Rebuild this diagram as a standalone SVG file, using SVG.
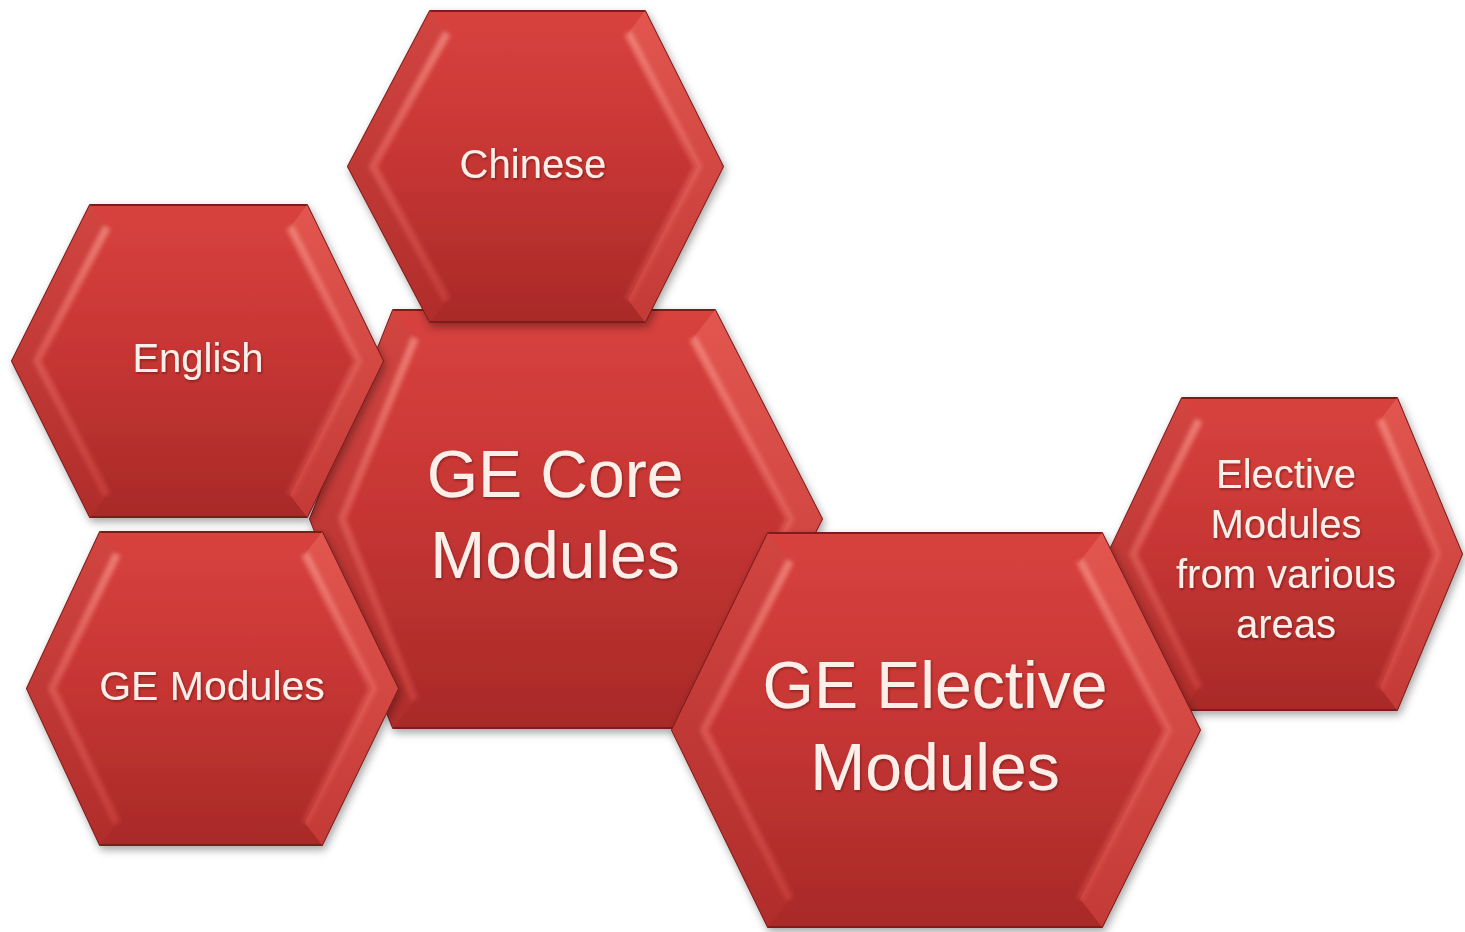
<svg xmlns="http://www.w3.org/2000/svg" width="1465" height="932" viewBox="0 0 1465 932">
<defs>
<linearGradient id="face" x1="0" y1="0" x2="0" y2="1">
<stop offset="0" stop-color="#d8423e"/>
<stop offset="0.5" stop-color="#c53533"/>
<stop offset="1" stop-color="#a82a28"/>
</linearGradient>
<linearGradient id="bandL" x1="0" y1="0" x2="0" y2="1">
<stop offset="0" stop-color="#d24541"/>
<stop offset="1" stop-color="#b02d2b"/>
</linearGradient>
<linearGradient id="bandR" x1="0" y1="0" x2="0" y2="1">
<stop offset="0" stop-color="#e2564f"/>
<stop offset="1" stop-color="#c43a36"/>
</linearGradient>
<linearGradient id="hl" x1="0" y1="0" x2="0" y2="1">
<stop offset="0" stop-color="#f28a80" stop-opacity="0.8"/>
<stop offset="0.5" stop-color="#ec6e66" stop-opacity="0.55"/>
<stop offset="1" stop-color="#e0554f" stop-opacity="0.4"/>
</linearGradient>
<filter id="shadow" x="-10%" y="-10%" width="125%" height="125%">
<feDropShadow dx="2" dy="4" stdDeviation="4" flood-color="#000" flood-opacity="0.35"/>
</filter>
<filter id="blur" x="-10%" y="-10%" width="120%" height="120%">
<feGaussianBlur stdDeviation="2.2"/>
</filter>
<filter id="tshadow" x="-10%" y="-20%" width="120%" height="150%">
<feDropShadow dx="1" dy="1.5" stdDeviation="1" flood-color="#5a0f0f" flood-opacity="0.6"/>
</filter>
</defs>
<style>
.outer{fill:url(#face);stroke:#7e1c1b;stroke-width:2;stroke-linejoin:round}
.bl{fill:url(#bandL)}
.br{fill:url(#bandR)}
.hl{fill:none;stroke:url(#hl);stroke-width:8;stroke-linejoin:round}
.lbl{font-family:"Liberation Sans",Arial,sans-serif;fill:#fcefe9;text-anchor:middle}
.s{font-size:40px}
.b{font-size:66px}
</style>
<rect width="1465" height="932" fill="#ffffff"/>

<g id="ge-core">
<g filter="url(#shadow)"><polygon class="outer" points="393,310 715,310 822,519 715,728 393,728 310,519"/></g>
<polygon class="bl" points="393,310 310,519 393,728 415,700 342,519 415,338"/>
<polygon class="br" points="715,310 822,519 715,728 693,700 790,519 693,338"/>
<polyline class="hl" filter="url(#blur)" points="415,338 342,519 415,700"/>
<polyline class="hl" filter="url(#blur)" points="693,338 790,519 693,700"/>
<text class="lbl b" filter="url(#tshadow)" x="555" y="497">GE Core</text>
<text class="lbl b" filter="url(#tshadow)" x="555" y="578">Modules</text>
</g>

<g id="chinese">
<g filter="url(#shadow)"><polygon class="outer" points="430,11 645,11 723,166.5 645,322 430,322 348,166.5"/></g>
<polygon class="bl" points="430,11 348,166.5 430,322 447,300 373,166.5 447,33"/>
<polygon class="br" points="645,11 723,166.5 645,322 628,300 698,166.5 628,33"/>
<polyline class="hl" filter="url(#blur)" points="447,33 373,166.5 447,300"/>
<polyline class="hl" filter="url(#blur)" points="628,33 698,166.5 628,300"/>
<text class="lbl s" filter="url(#tshadow)" x="533" y="178">Chinese</text>
</g>

<g id="english">
<g filter="url(#shadow)"><polygon class="outer" points="90,205 307,205 383,361 307,517 90,517 12,361"/></g>
<polygon class="bl" points="90,205 12,361 90,517 107,495 37,361 107,227"/>
<polygon class="br" points="307,205 383,361 307,517 290,495 358,361 290,227"/>
<polyline class="hl" filter="url(#blur)" points="107,227 37,361 107,495"/>
<polyline class="hl" filter="url(#blur)" points="290,227 358,361 290,495"/>
<text class="lbl s" filter="url(#tshadow)" x="198" y="372">English</text>
</g>

<g id="ge-modules">
<g filter="url(#shadow)"><polygon class="outer" points="100,532 322,532 398,688.5 322,845 100,845 27,688.5"/></g>
<polygon class="bl" points="100,532 27,688.5 100,845 117,823 52,688.5 117,554"/>
<polygon class="br" points="322,532 398,688.5 322,845 305,823 373,688.5 305,554"/>
<polyline class="hl" filter="url(#blur)" points="117,554 52,688.5 117,823"/>
<polyline class="hl" filter="url(#blur)" points="305,554 373,688.5 305,823"/>
<text class="lbl s" filter="url(#tshadow)" x="212" y="700" style="font-size:41px">GE Modules</text>
</g>

<g id="elective-modules">
<g filter="url(#shadow)"><polygon class="outer" points="1182,398 1397,398 1462,554 1397,710 1182,710 1108,554"/></g>
<polygon class="bl" points="1182,398 1108,554 1182,710 1199,688 1133,554 1199,420"/>
<polygon class="br" points="1397,398 1462,554 1397,710 1380,688 1437,554 1380,420"/>
<polyline class="hl" filter="url(#blur)" points="1199,420 1133,554 1199,688"/>
<polyline class="hl" filter="url(#blur)" points="1380,420 1437,554 1380,688"/>
<text class="lbl s" filter="url(#tshadow)" x="1286" y="488">Elective</text>
<text class="lbl s" filter="url(#tshadow)" x="1286" y="538">Modules</text>
<text class="lbl s" filter="url(#tshadow)" x="1286" y="588">from various</text>
<text class="lbl s" filter="url(#tshadow)" x="1286" y="638">areas</text>
</g>

<g id="ge-elective">
<g filter="url(#shadow)"><polygon class="outer" points="768,533 1102,533 1200,730 1102,927 768,927 672,730"/></g>
<polygon class="bl" points="768,533 672,730 768,927 790,899 704,730 790,561"/>
<polygon class="br" points="1102,533 1200,730 1102,927 1080,899 1168,730 1080,561"/>
<polyline class="hl" filter="url(#blur)" points="790,561 704,730 790,899"/>
<polyline class="hl" filter="url(#blur)" points="1080,561 1168,730 1080,899"/>
<text class="lbl b" filter="url(#tshadow)" x="935" y="708">GE Elective</text>
<text class="lbl b" filter="url(#tshadow)" x="935" y="790">Modules</text>
</g>

<g id="connectors"></g>
</svg>
